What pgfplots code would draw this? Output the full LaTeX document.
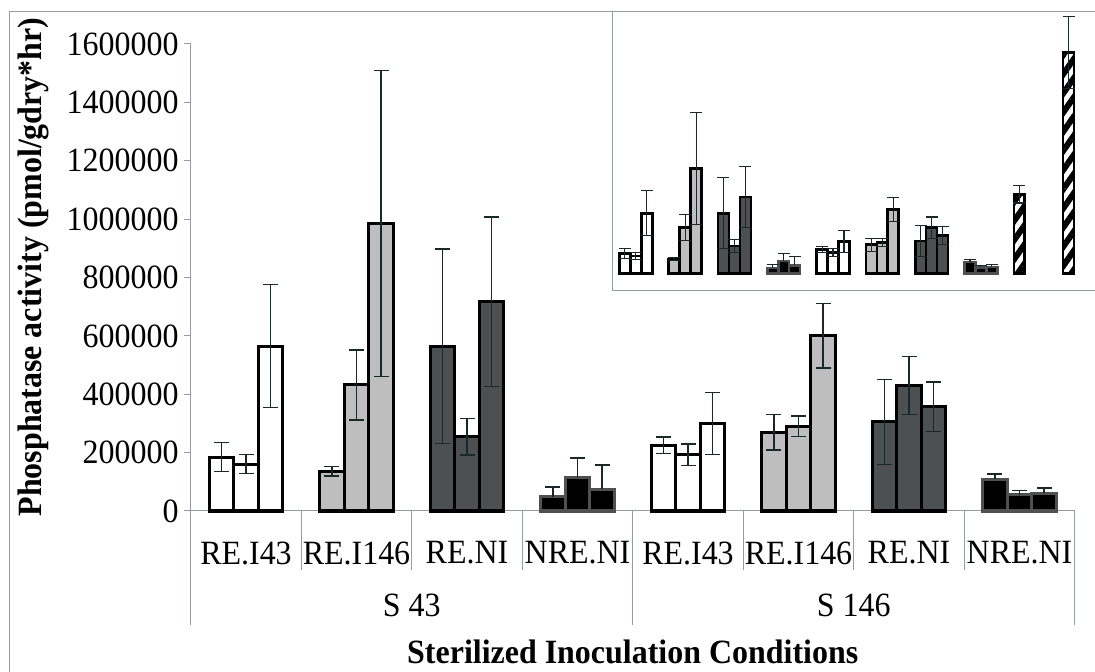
\documentclass[border=0pt]{standalone}
\usepackage{fontspec}
\setmainfont{Liberation Serif}[FakeStretch=0.94]
\usepackage{pgfplots}
\pgfplotsset{compat=1.18}
\usepackage{pgfplotstable}
\usetikzlibrary{patterns.meta}

\definecolor{axgray}{RGB}{150,154,165}
\definecolor{lgray}{RGB}{190,190,190}
\definecolor{dgray}{RGB}{76,80,80}
\definecolor{errc}{RGB}{25,40,40}
\definecolor{blkedge}{RGB}{80,80,80}
\newcommand\bigf{\fontsize{34bp}{40bp}\selectfont}

% x = category index + slot offset, y = value, e = error
\pgfplotstableread{
x y e
-0.222 185000 50000
0 161000 32000
0.222 565000 210000
3.778 226000 28000
4 193000 37000
4.222 300000 106000
}\tabW
\pgfplotstableread{
x y e
0.778 136000 16000
1 432000 120000
1.222 985000 525000
4.778 270000 61000
5 290000 35000
5.222 600000 110000
}\tabG
\pgfplotstableread{
x y e
1.778 565000 333000
2 255000 63000
2.222 717000 290000
5.778 305000 145000
6 430000 100000
6.222 357000 85000
}\tabD
\pgfplotstableread{
x y e
2.778 49000 33000
3 114000 68000
3.222 74000 84000
6.778 108000 19000
7 55000 15000
7.222 60000 19000
}\tabB
\pgfplotstableread{
x y e
7.778 743000 82000
8.778 2075000 339000
}\tabH

\pgfplotsset{
 mybar/.style={ybar, bar width=0.222, bar shift=0pt, line width=3bp,
   error bars/y dir=both, error bars/y explicit,
   error bars/error bar style={line width=1.3bp, draw=errc, fill=none},
   error bars/error mark options={rotate=90, line width=1.3bp, draw=errc, mark size=7.5bp}},
 inbar/.style={ybar, bar width=0.222, bar shift=0pt, line width=2.6bp,
   error bars/y dir=both, error bars/y explicit,
   error bars/error bar style={line width=1.1bp, draw=errc, fill=none},
   error bars/error mark options={rotate=90, line width=1.1bp, draw=errc, mark size=6bp}},
}

\begin{document}
\begin{tikzpicture}
\useasboundingbox (0,0) rectangle (1095bp,672bp);
\draw[axgray, line width=1bp] (9bp,-5bp) -- (9bp,660bp) -- (1110bp,660bp);

\begin{axis}[
  at={(190.75bp,161bp)}, anchor=south west,
  scale only axis, width=884bp, height=467bp,
  xmin=-0.5, xmax=7.5, ymin=0, ymax=1600000,
  clip=false,
  axis x line*=bottom, axis y line*=left,
  axis line style={axgray, line width=1bp},
  tick align=outside, major tick length=7bp,
  tick style={axgray, line width=1bp},
  xtick={0,...,7},
  xticklabels={RE.I43,RE.I146,RE.NI,NRE.NI,RE.I43,RE.I146,RE.NI,NRE.NI},
  xtick style={draw=none},
  xticklabel style={font=\bigf, anchor=center, inner sep=0pt, yshift=-35bp},
  ytick={0,200000,...,1600000},
  scaled y ticks=false,
  yticklabel style={font=\bigf, anchor=east, inner sep=0pt, xshift=-5bp,
    /pgf/number format/fixed, /pgf/number format/1000 sep={}},
  /pgf/number format/assume math mode=true,
]
\addplot[mybar, fill=white, draw=black] table[x=x,y=y,y error=e]{\tabW};
\addplot[mybar, fill=lgray, draw=black] table[x=x,y=y,y error=e]{\tabG};
\addplot[mybar, fill=dgray, draw=black] table[x=x,y=y,y error=e]{\tabD};
\addplot[mybar, fill=black, draw=blkedge, error bars/y dir=plus] table[x=x,y=y,y error=e]{\tabB};

\draw[axgray, line width=1bp] (axis cs:0.5,0) -- ++(0bp,-59bp);
\draw[axgray, line width=1bp] (axis cs:1.5,0) -- ++(0bp,-59bp);
\draw[axgray, line width=1bp] (axis cs:2.5,0) -- ++(0bp,-59bp);
\draw[axgray, line width=1bp] (axis cs:4.5,0) -- ++(0bp,-59bp);
\draw[axgray, line width=1bp] (axis cs:5.5,0) -- ++(0bp,-59bp);
\draw[axgray, line width=1bp] (axis cs:6.5,0) -- ++(0bp,-59bp);
\draw[axgray, line width=1bp] (axis cs:-0.5,0) -- ++(0bp,-114bp);
\draw[axgray, line width=1bp] (axis cs:3.5,0) -- ++(0bp,-114bp);
\draw[axgray, line width=1bp] (axis cs:7.5,0) -- ++(0bp,-114bp);
\node[font=\bigf, inner sep=0pt] at ([yshift=-94bp]axis cs:1.5,0) {S 43};
\node[font=\bigf, inner sep=0pt] at ([yshift=-94bp]axis cs:5.5,0) {S 146};
\node[font=\bigf\bfseries, inner sep=0pt] at ([yshift=-141bp]axis cs:3.5,0) {Sterilized Inoculation Conditions};
\end{axis}

\node[font=\bigf\bfseries, rotate=90, inner sep=0pt] at (33bp,405bp) {Phosphatase activity (pmol/gdry*hr)};

\begin{axis}[
  at={(612bp,381.3bp)}, anchor=south west,
  scale only axis, width=500bp, height=279bp,
  xmin=-0.483, xmax=9.659, ymin=-163700, ymax=2461000,
  axis line style={axgray, line width=1bp},
  xtick=\empty, ytick=\empty,
  axis background/.style={fill=white},
]
\addplot[inbar, fill=white, draw=black] table[x=x,y=y,y error=e]{\tabW};
\addplot[inbar, fill=lgray, draw=black] table[x=x,y=y,y error=e]{\tabG};
\addplot[inbar, fill=dgray, draw=black] table[x=x,y=y,y error=e]{\tabD};
\addplot[inbar, fill=black, draw=blkedge, error bars/y dir=plus] table[x=x,y=y,y error=e]{\tabB};
\addplot[inbar, fill=white, draw=black, pattern={Lines[angle=55,distance=11bp,line width=6bp]}, pattern color=black] table[x=x,y=y,y error=e]{\tabH};
\end{axis}
\end{tikzpicture}
\end{document}
